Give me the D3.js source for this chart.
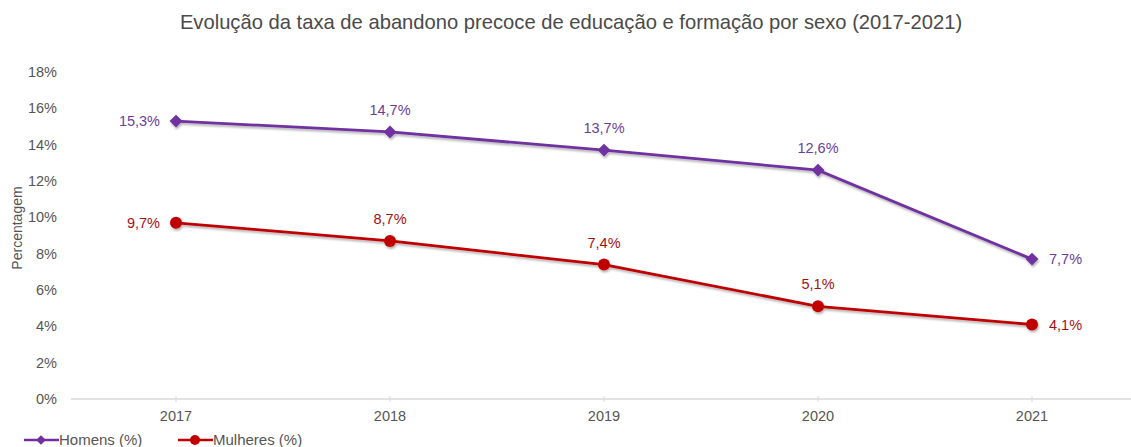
<!DOCTYPE html>
<html>
<head>
<meta charset="utf-8">
<script src="https://cdn.jsdelivr.net/npm/d3@7"></script>
<style>
  body { margin: 0; background: #fff; font-family: "Liberation Sans", Arial, sans-serif; }
  svg text { font-family: "Liberation Sans", Arial, sans-serif; }
</style>
</head>
<body>
<div id="chart"></div>
<script>
var years = ["2017", "2018", "2019", "2020", "2021"];
var homens = [15.3, 14.7, 13.7, 12.6, 7.7];
var mulheres = [9.7, 8.7, 7.4, 5.1, 4.1];
var yTicks = [0, 2, 4, 6, 8, 10, 12, 14, 16, 18];

var width = 1131, height = 447;

var svg = d3.select("#chart").append("svg")
  .attr("width", width)
  .attr("height", height);

var defs = svg.append("defs");
var f = defs.append("filter").attr("id", "shadow")
  .attr("x", "-5%").attr("y", "-50%").attr("width", "110%").attr("height", "200%");
f.append("feDropShadow").attr("dx", 1).attr("dy", 2).attr("stdDeviation", 1.2)
  .attr("flood-color", "#000").attr("flood-opacity", 0.3);

var x = d3.scalePoint()
  .domain(years)
  .range([176, 1032]);

var y = d3.scaleLinear()
  .domain([0, 18])
  .range([399, 72]);

// title
svg.append("text")
  .attr("x", 571).attr("y", 29)
  .attr("text-anchor", "middle")
  .style("font-size", "20.2px")
  .style("fill", "#4a4a4a")
  .text("Evolução da taxa de abandono precoce de educação e formação por sexo (2017-2021)");

// y axis labels
svg.append("g").selectAll("text")
  .data(yTicks)
  .enter().append("text")
  .attr("x", 57)
  .attr("y", function(d) { return y(d); })
  .attr("dy", "0.35em")
  .attr("text-anchor", "end")
  .style("font-size", "14.5px")
  .style("fill", "#555")
  .text(function(d) { return d + "%"; });

svg.append("text")
  .attr("transform", "translate(22,228) rotate(-90)")
  .attr("text-anchor", "middle")
  .style("font-size", "14px")
  .style("fill", "#555")
  .text("Percentagem");

// x axis
var xAxis = svg.append("g")
  .attr("transform", "translate(0," + y(0) + ")");
xAxis.append("line")
  .attr("x1", 71).attr("x2", 1131)
  .attr("stroke", "#d9d9d9").attr("stroke-width", 1.3);
xAxis.selectAll(".tick")
  .data(years)
  .enter().append("line")
  .attr("x1", function(d) { return x(d); })
  .attr("x2", function(d) { return x(d); })
  .attr("y1", -3).attr("y2", 3)
  .attr("stroke", "#d9d9d9");
xAxis.selectAll(".lbl")
  .data(years)
  .enter().append("text")
  .attr("x", function(d) { return x(d); })
  .attr("y", 22)
  .attr("text-anchor", "middle")
  .style("font-size", "14.5px")
  .style("fill", "#555")
  .text(function(d) { return d; });

var series = [
  {name: "Homens (%)", values: homens, color: "#7030a0", text: "#6a3d9a", shape: "diamond"},
  {name: "Mulheres (%)", values: mulheres, color: "#c00000", text: "#a50f15", shape: "circle"}
];

var line = d3.line()
  .x(function(d, i) { return x(years[i]); })
  .y(function(d) { return y(d); });

function fmt(v) { return v.toFixed(1).replace(".", ",") + "%"; }

function marker(g, s, cx, cy, small) {
  if (s.shape === "circle") {
    g.append("circle").attr("cx", cx).attr("cy", cy).attr("r", small ? 5 : 6)
      .attr("fill", s.color);
  } else {
    g.append("path")
      .attr("d", d3.symbol().type(d3.symbolDiamond2).size(small ? 60 : 105)())
      .attr("transform", "translate(" + cx + "," + cy + ")")
      .attr("fill", s.color);
  }
}

series.forEach(function(s) {
  var g = svg.append("g").attr("filter", "url(#shadow)");
  g.append("path")
    .datum(s.values)
    .attr("d", line)
    .attr("fill", "none")
    .attr("stroke", s.color)
    .attr("stroke-width", 2.8);
  s.values.forEach(function(v, i) {
    marker(g, s, x(years[i]), y(v), false);
  });

  var labels = svg.append("g");
  s.values.forEach(function(v, i) {
    var px = x(years[i]), py = y(v), anchor = "middle", ly = py - 22;
    if (i === 0) { px -= 16; ly = py; anchor = "end"; }
    else if (i === s.values.length - 1) { px += 17; ly = py; anchor = "start"; }
    labels.append("text")
      .attr("x", px).attr("y", ly)
      .attr("dy", "0.35em")
      .attr("text-anchor", anchor)
      .style("font-size", "14.5px")
      .style("fill", s.text)
      .text(fmt(v));
  });
});

// legend
var legend = svg.append("g").attr("transform", "translate(0,440)");
var lx = [24, 178];
series.forEach(function(s, i) {
  var lg = legend.append("g").attr("transform", "translate(" + lx[i] + ",0)");
  lg.append("line").attr("x1", 0).attr("x2", 35).attr("y1", 0).attr("y2", 0)
    .attr("stroke", s.color).attr("stroke-width", 2.5);
  marker(lg, s, 17, 0, true);
  lg.append("text").attr("x", 35).attr("y", 0).attr("dy", "0.35em")
    .style("font-size", "15px").style("fill", "#555").text(s.name);
});
</script>
</body>
</html>
